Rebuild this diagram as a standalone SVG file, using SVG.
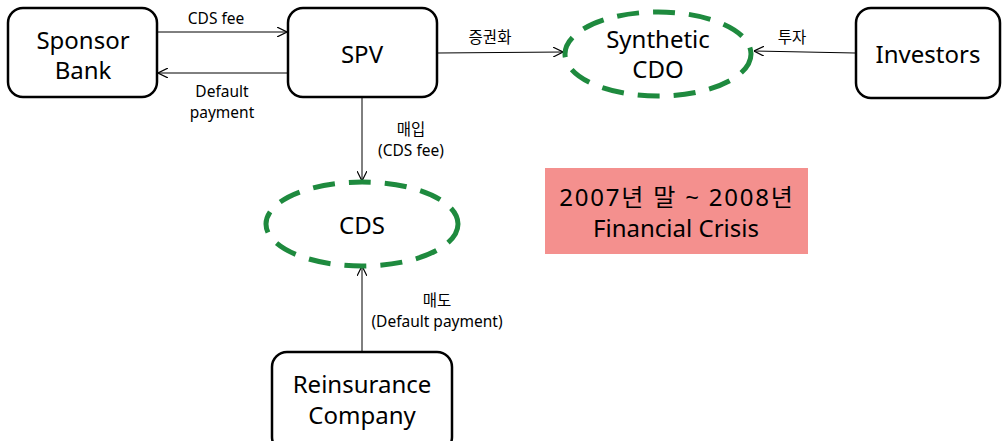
<svg xmlns="http://www.w3.org/2000/svg" width="1002" height="441" viewBox="0 0 1002 441">
<style>
.box{fill:#fff;stroke:#000;stroke-width:2.5}
.ell{fill:none;stroke:#1e8a3e;stroke-width:5;stroke-dasharray:22 14}
.t{font-family:"Noto Sans","Noto Sans CJK KR",sans-serif;font-size:24px;fill:#000;text-anchor:middle;dominant-baseline:central}
.l{font-family:"Noto Sans","Noto Sans CJK KR",sans-serif;font-size:15.5px;fill:#000;text-anchor:middle;dominant-baseline:central}
.c{stroke:#000;stroke-width:1;fill:none;marker-end:url(#a)}
</style>
<defs>
<marker id="a" viewBox="0 0 10 10" refX="10" refY="5" markerWidth="10" markerHeight="10" markerUnits="userSpaceOnUse" orient="auto">
<path d="M0,0 L10,5 L0,10" fill="none" stroke="#000" stroke-width="1.2"/>
</marker>
</defs>
<rect x="0" y="0" width="1002" height="441" fill="#fff"/>
<g id="connectors">
<line class="c" x1="158" y1="32" x2="287" y2="32"/>
<line class="c" x1="288" y1="73" x2="158" y2="73"/>
<line class="c" x1="438" y1="53" x2="563" y2="52"/>
<line class="c" x1="855" y1="53" x2="754" y2="51"/>
<line class="c" x1="362" y1="98" x2="362" y2="181"/>
<line class="c" x1="362" y1="352" x2="362" y2="266"/>
<text class="l" x="216" y="18">CDS fee</text>
<text class="l" x="222" y="91">Default</text>
<text class="l" x="222" y="112">payment</text>
<text class="l" x="490" y="37">증권화</text>
<text class="l" x="792" y="37">투자</text>
<text class="l" x="411" y="129">매입</text>
<text class="l" x="411" y="150">(CDS fee)</text>
<text class="l" x="437" y="300">매도</text>
<text class="l" x="437" y="321">(Default payment)</text>
</g>
<g id="sponsor">
<rect class="box" x="8" y="8" width="149" height="89" rx="15"/>
<text class="t" x="83" y="39">Sponsor</text>
<text class="t" x="83" y="69">Bank</text>
</g>
<g id="spv">
<rect class="box" x="288" y="8" width="149" height="89" rx="15"/>
<text class="t" x="362" y="53">SPV</text>
</g>
<g id="cdo">
<ellipse class="ell" cx="658" cy="54" rx="93" ry="42"/>
<text class="t" x="658" y="38">Synthetic</text>
<text class="t" x="658" y="68">CDO</text>
</g>
<g id="investors">
<rect class="box" x="856" y="8" width="144" height="90" rx="15"/>
<text class="t" x="928" y="53">Investors</text>
</g>
<g id="cds">
<ellipse class="ell" cx="362" cy="224" rx="96" ry="42"/>
<text class="t" x="362" y="224">CDS</text>
</g>
<g id="reinsurance">
<rect class="box" x="272" y="352" width="180" height="100" rx="15"/>
<text class="t" x="362" y="383">Reinsurance</text>
<text class="t" x="362" y="414">Company</text>
</g>
<g id="crisis">
<rect x="545" y="168" width="263" height="86" fill="#f4908e"/>
<text class="t" x="677" y="196" letter-spacing="1.8">2007년 말 ~ 2008년</text>
<text class="t" x="676" y="227">Financial Crisis</text>
</g>
</svg>
